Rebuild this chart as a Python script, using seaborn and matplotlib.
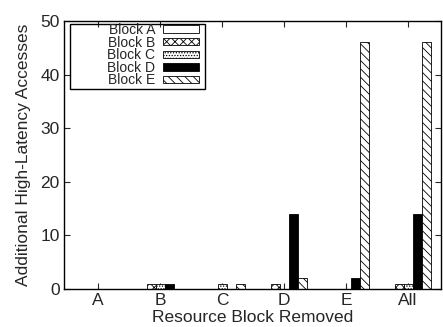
import matplotlib
matplotlib.use("Agg")
import matplotlib.pyplot as plt
import seaborn as sns
import pandas as pd
from matplotlib.patches import Rectangle

groups = ["A", "B", "C", "D", "E", "All"]
blocks = ["Block A", "Block B", "Block C", "Block D", "Block E"]
block_a = [0, 0, 0, 0, 0, 0]
block_b = [0, 1, 0, 1, 0, 1]
block_c = [0, 1, 1, 0, 0, 1]
block_d = [0, 1, 0, 14, 2, 14]
block_e = [0, 0, 1, 2, 46, 46]
yticks = [0, 10, 20, 30, 40, 50]

series = [block_a, block_b, block_c, block_d, block_e]
rows = []
for b, vals in zip(blocks, series):
    for g, v in zip(groups, vals):
        rows.append({"group": g, "block": b, "value": v})
df = pd.DataFrame(rows)

sns.set_style("ticks")
plt.rcParams["font.family"] = ["Liberation Sans", "DejaVu Sans"]
plt.rcParams["hatch.linewidth"] = 0.6
plt.rcParams["hatch.color"] = "black"

fig = plt.figure(figsize=(4.43, 3.27), dpi=100)
ax = fig.add_axes([64 / 443, 1 - 289 / 327, 377 / 443, 268 / 327])

sns.barplot(data=df, x="group", y="value", hue="block", order=groups,
            hue_order=blocks, width=0.73, ax=ax, legend=False,
            palette=["white"] * 5, edgecolor="black", linewidth=0.6,
            saturation=1)

styles = [("white", ""), ("white", "xxxx"), ("white", "......"),
          ("black", ""), ("white", "\\\\\\\\")]
for cont, (fc, h), name in zip(ax.containers, styles, blocks):
    cont.set_label(name)
    for p in cont.patches:
        p.set_facecolor(fc)
        p.set_hatch(h)
        p.set_edgecolor("black")
        p.set_linewidth(0.6)

ax.set_xlim(-0.55, 5.53)
ax.set_ylim(0, 50)
ax.set_yticks(yticks)
ax.set_xlabel("Resource Block Removed", fontsize=12.5, labelpad=1)
ax.set_ylabel("Additional High-Latency Accesses", fontsize=12.5, labelpad=7)
ax.tick_params(axis="both", direction="in", length=4, width=0.8,
               labelsize=12.5, top=True, right=True, pad=3)
for s in ax.spines.values():
    s.set_visible(True)
    s.set_color("black")
    s.set_linewidth(1.0)

handles = list(ax.containers)
leg = ax.legend(handles=handles, labels=blocks, loc="upper right",
                bbox_to_anchor=((199 - 64) / 377, (289 - 23) / 268),
                borderaxespad=0, borderpad=0, frameon=False,
                markerfirst=False, fontsize=10, labelspacing=-0.1,
                handlelength=2.6, handleheight=0.45, handletextpad=0.55)
ax.add_patch(Rectangle(((70 - 64) / 377, (289 - 89) / 268),
                       (205 - 70) / 377, (89 - 24) / 268,
                       transform=ax.transAxes, fill=False,
                       edgecolor="black", linewidth=1.0, zorder=5))

fig.savefig("out.png", dpi=100)
